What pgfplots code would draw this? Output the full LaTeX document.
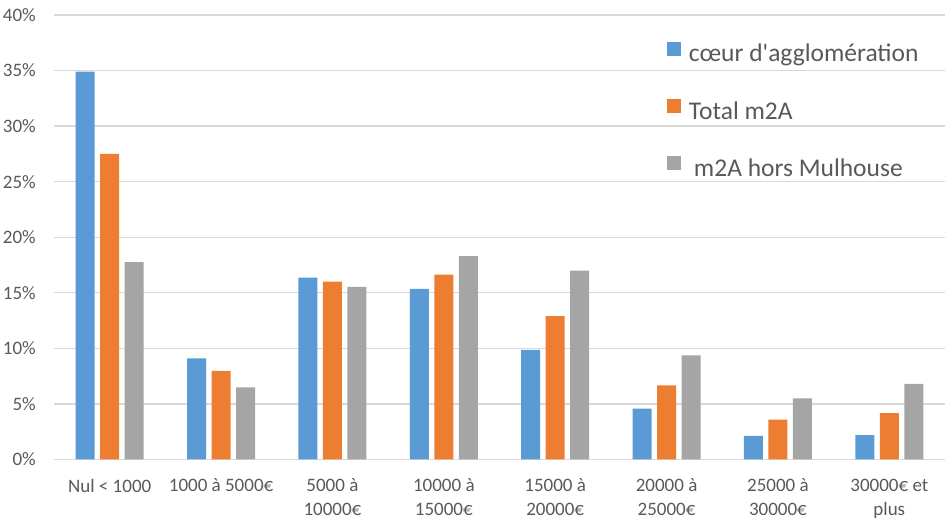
\documentclass[border=0pt]{standalone}
\usepackage{pgfplots}
\pgfplotsset{compat=1.18}
\usepackage{fontspec}
\setmainfont{Carlito}[Ligatures=TeXOff]
\definecolor{cblue}{HTML}{5B9BD5}
\definecolor{corange}{HTML}{ED7D31}
\definecolor{cgray}{HTML}{A5A5A5}
\definecolor{txtgray}{HTML}{595959}
\definecolor{gridgray}{HTML}{D9D9D9}
\begin{document}
\begin{tikzpicture}
\begin{axis}[
  scale only axis,
  width=891pt, height=444.5pt,
  ybar=5.5pt, bar width=19pt,
  xmin=-0.5, xmax=7.5,
  ymin=0, ymax=40,
  ytick={0,5,...,40},
  xtick={0,...,7},
  xticklabels={{Nul < 1000},{1000 à 5000€},{5000 à\\10000€},{10000 à\\15000€},{15000 à\\20000€},{20000 à\\25000€},{25000 à\\30000€},{30000€ et\\plus}},
  yticklabel={\pgfmathprintnumber{\tick}\%},
  /pgf/number format/assume math mode=true,
  ymajorgrids,
  grid style={color=gridgray, line width=1.3pt},
  axis line style={draw=none},
  tick style={draw=none},
  yticklabel style={font=\fontsize{19}{23}\selectfont, text=txtgray, inner sep=0pt, xshift=-18pt},
  xticklabel style={font=\fontsize{19}{24}\selectfont, text=txtgray, align=center, inner sep=0pt, yshift=-15pt},
  legend image code/.code={\fill[#1] (0pt,0pt) rectangle (14pt,14pt); \path (21.5pt,0pt);},
  legend style={draw=none, fill=none, inner sep=0pt, row sep=31.2pt,
    font=\fontsize{25.5}{30}\selectfont, text=txtgray,
    nodes={inner sep=0pt, text height=18pt, text depth=6pt},
    anchor=north west, at={(axis description cs:0.6883,0.9399)}},
  legend cell align=left,
]
\addplot[fill=cblue, draw=none] coordinates {(0,34.9) (1,9.1) (2,16.36) (3,15.35) (4,9.86) (5,4.57) (6,2.12) (7,2.2)};
\addplot[fill=corange, draw=none] coordinates {(0,27.5) (1,7.97) (2,16.0) (3,16.63) (4,12.9) (5,6.68) (6,3.58) (7,4.18)};
\addplot[fill=cgray, draw=none] coordinates {(0,17.75) (1,6.5) (2,15.53) (3,18.3) (4,17.0) (5,9.38) (6,5.5) (7,6.8)};
\legend{cœur d'agglomération, Total m2A, \hspace{5pt}m2A hors Mulhouse}
\coordinate (bl) at (rel axis cs:0,0);
\coordinate (tr) at (rel axis cs:1,1);
\end{axis}
\pgfresetboundingbox
\path ([shift={(-54pt,-60.5pt)}]bl) rectangle ([shift={(3pt,15pt)}]tr);
\end{tikzpicture}
\end{document}
